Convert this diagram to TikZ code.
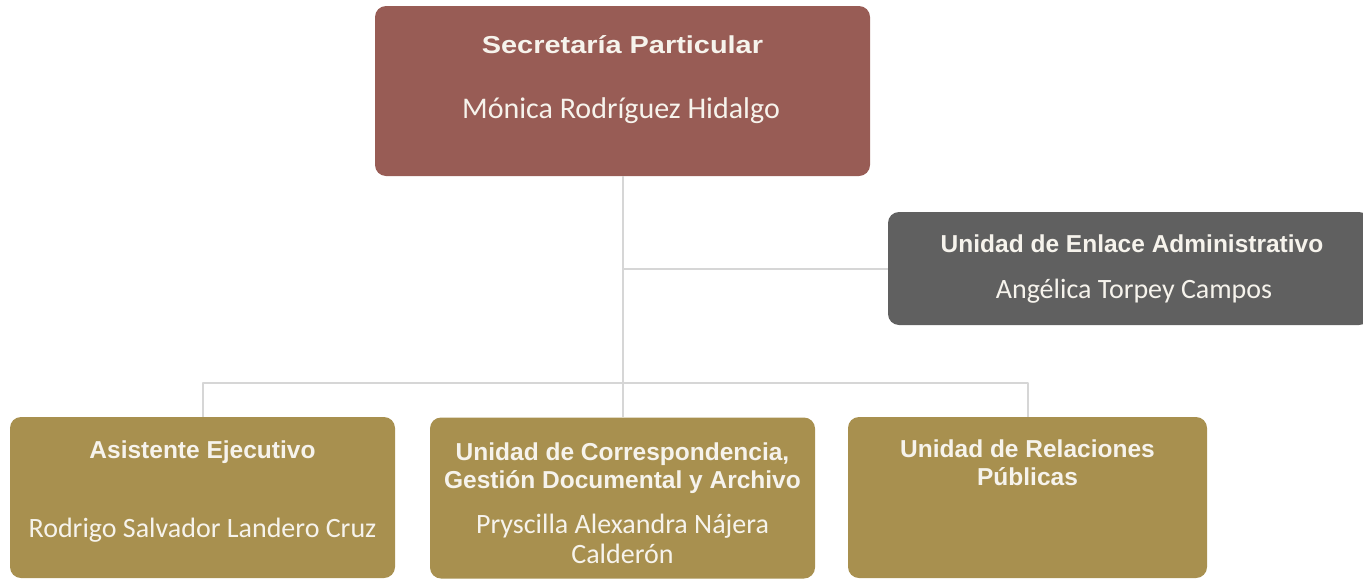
\documentclass[tikz,border=0pt]{standalone}
\usepackage{fontspec}
\newfontfamily\headfont{Liberation Sans}
\newfontfamily\wideheadfont{Liberation Sans}[FakeStretch=1.18]
\newfontfamily\namefont{Carlito}
\definecolor{spred}{HTML}{985C55}
\definecolor{ueagray}{HTML}{606060}
\definecolor{unitgold}{HTML}{A8904F}
\definecolor{linkgray}{HTML}{D6D6D6}
\definecolor{boxtext}{HTML}{F6F3EC}
\tikzset
{
  orgbox/.style={rectangle,rounded corners=11pt,draw=none,inner sep=0pt},
  chief/.style={orgbox,fill=spred,minimum width=495pt,minimum height=170pt},
  staff/.style={orgbox,fill=ueagray,minimum width=482pt,minimum height=113pt},
  unit/.style={orgbox,fill=unitgold,minimum height=161pt},
  boxtitle/.style={text=boxtext,anchor=base,align=center,inner sep=0pt,
    font=\headfont\bfseries\fontsize{24.5}{28}\selectfont},
  boxname/.style={text=boxtext,anchor=base,align=center,inner sep=0pt,
    font=\namefont\fontsize{28}{30}\selectfont},
  link/.style={draw=linkgray,line width=2pt}
}
\begin{document}
\begin{tikzpicture}[x=1pt,y=-1pt,line join=round]
  \useasboundingbox (0,0) rectangle (1363,579);
  % boxes
  \node[chief] (sp)  at (622.5,91)    {};
  \node[staff] (uea) at (1129,268.5)  {};
  \node[unit,minimum width=385pt] (ae)  at (202.5,497.5) {};
  \node[unit,minimum width=385pt] (ucg) at (622.5,498)   {};
  \node[unit,minimum width=359pt] (urp) at (1027.5,497.5) {};
  % connectors
  \coordinate (bus) at (622.5,383);
  \draw[link] (sp.south) -- (ucg.north);
  \draw[link] (sp.south |- uea.west) -- (uea.west);
  \draw[link] (ae.north) |- (bus) -| (urp.north);
  % texts (base = last line)
  \node[boxtitle,font=\wideheadfont\bfseries\fontsize{24.5}{28}\selectfont] (sp title) at (622.5,53) {Secretaría Particular};
  \node[boxname,font=\namefont\fontsize{30}{32}\selectfont] (sp name) at (621,118) {Mónica Rodríguez Hidalgo};
  \node[boxtitle] (uea title) at (1132,252) {Unidad de Enlace Administrativo};
  \node[boxname] (uea name) at (1134,298) {Angélica Torpey Campos};
  \node[boxtitle] (ae title) at (202.5,458) {Asistente Ejecutivo};
  \node[boxname] (ae name) at (202.5,537) {Rodrigo Salvador Landero Cruz};
  \node[boxtitle] (ucg title) at (622.5,488) {Unidad de Correspondencia,\\Gestión Documental y Archivo};
  \node[boxname] (ucg name) at (622.5,563) {Pryscilla Alexandra Nájera\\Calderón};
  \node[boxtitle] (urp title) at (1027.5,485) {Unidad de Relaciones\\Públicas};
\end{tikzpicture}
\end{document}
